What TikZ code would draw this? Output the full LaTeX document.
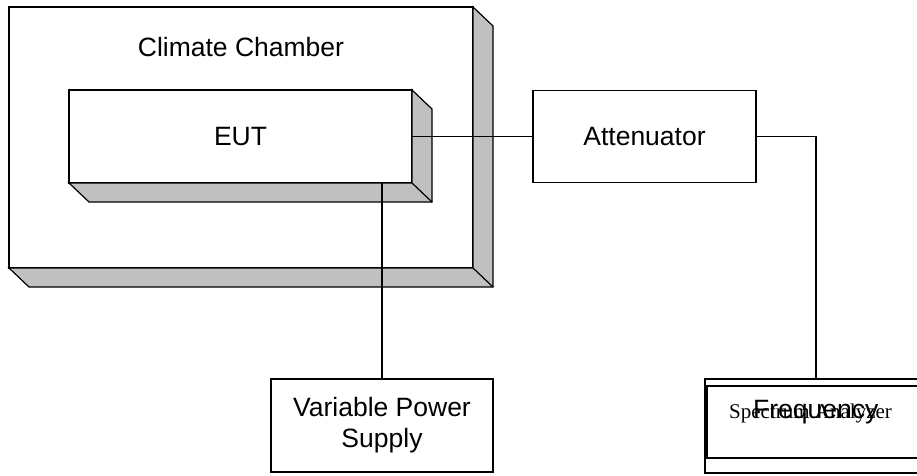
\documentclass[tikz,border=0pt]{standalone}
\usepackage{fontspec}
\setmainfont{Liberation Sans}
\newfontfamily\timesfont{Liberation Serif}
\usepackage{xcolor}
\usetikzlibrary{positioning,calc}
\definecolor{shadegray}{HTML}{C0C0C0}
\tikzset{
  unitbox/.style 2 args={
    rectangle, draw=black, fill=white, line width=1.2pt,
    outer sep=0pt, minimum width=#1, minimum height=#2,
    align=center, font=\fontsize{26.5}{31}\selectfont
  },
  depthface/.style={draw=black, fill=shadegray, line width=1.2pt},
  wire/.style={draw=black, line width=1.2pt},
  lbl/.style={font=\fontsize{26.5}{31}\selectfont, inner sep=0pt}
}
% grey side and bottom faces of a raised box
\newcommand{\boxdepth}[1]{%
  \filldraw[depthface] (#1.north east) -- ++(20,19)
    -- ($(#1.south east)+(20,19)$) -- ($(#1.south west)+(20,19)$)
    -- (#1.south west) -- (#1.south east) -- cycle;
  \draw[depthface] (#1.south east) -- ++(20,19);}

\begin{document}
\begin{tikzpicture}[x=1pt,y=-1pt]
\useasboundingbox (0,0) rectangle (917,475);
\clip (0,0) rectangle (917,475);

% Chamber
\node[unitbox={464pt}{261pt}] (chamber) at (241,137.5) {};
\boxdepth{chamber}
\node[lbl] (chamberlbl) at ($(chamber.north)+(0,40)$) {Climate Chamber};

% EUT
\node[unitbox={343pt}{93pt}] (eut) at (240.5,136.5) {EUT};
\boxdepth{eut}

% Attenuator
\node[unitbox={223pt}{92pt}, right=121pt of eut] (att) {Attenuator};

% Power supply
\node[unitbox={222pt}{93pt}] (vps) at (382,425.5) {Variable Power\\Supply};

% Analyzer
\node[unitbox={222pt}{94pt}] (freq) at (816,426) {};
\draw[line width=2pt] ($(freq.north west)+(2,7)$) rectangle ($(freq.south east)+(-2,-15)$);
\node[lbl, anchor=base west, font=\timesfont\fontsize{21}{25}\selectfont]
  (speclbl) at ($(freq.north west)+(24,39)$) {Spectrum Analyzer};
\node[lbl, anchor=base west] (freqlbl) at ($(freq.north west)+(48,39)$) {Frequency};

% Wires
\draw[wire] (eut.east) -- (att.west);
\draw[wire] (eut.south -| vps.north) -- (vps.north);
\draw[wire] (att.east) -| (freq.north);

\end{tikzpicture}
\end{document}
